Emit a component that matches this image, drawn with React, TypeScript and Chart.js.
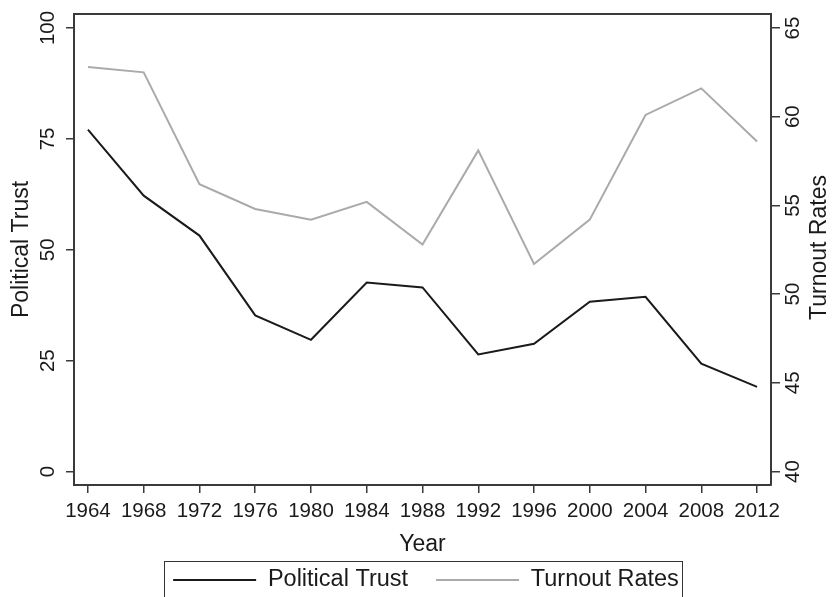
import React, { useEffect, useRef } from "react";
import { Chart, registerables } from "chart.js";

Chart.register(...registerables);

const years = [1964, 1968, 1972, 1976, 1980, 1984, 1988, 1992, 1996, 2000, 2004, 2008, 2012];
const politicalTrust = [77.1, 62.2, 53.2, 35.2, 29.7, 42.6, 41.5, 26.4, 28.8, 38.3, 39.4, 24.3, 19.1];
const turnoutRates = [62.8, 62.5, 56.2, 54.8, 54.2, 55.2, 52.8, 58.1, 51.7, 54.2, 60.1, 61.6, 58.6];
const trustTicks = [0, 25, 50, 75, 100];
const turnoutTicks = [40, 45, 50, 55, 60, 65];

const FONT = "'Liberation Sans', Arial, Helvetica, sans-serif";
const AXIS = "#3a3a3a";
const TEXT = "#1a1a1a";

export default function App() {
  const ref = useRef<HTMLCanvasElement | null>(null);

  useEffect(() => {
    document.body.style.margin = "0";
    const canvas = ref.current;
    if (!canvas) return;

    const framePlugin = {
      id: "frame",
      afterLayout(chart: any) {
        const lg = chart.legend;
        if (lg) {
          const pad = 28;
          const itemH = 23.5;
          const target = chart.scales.x.bottom + 19;
          const newTop = target - pad - itemH / 2;
          lg.top = newTop;
          lg.bottom = chart.height + 40;
          lg.height = lg.bottom - lg.top;
          lg.left += 3.5;
          lg.right += 3.5;
        }
      },
      afterDraw(chart: any) {
        const { ctx, chartArea } = chart;
        ctx.save();
        // top frame line
        ctx.strokeStyle = AXIS;
        ctx.lineWidth = 2;
        ctx.beginPath();
        ctx.moveTo(chartArea.left - 1, chartArea.top);
        ctx.lineTo(chartArea.right + 1, chartArea.top);
        ctx.stroke();
        // legend border around the drawn legend items
        const lg = chart.legend;
        if (lg && lg.legendItems && lg.legendItems.length) {
          const labelOpts = lg.options.labels;
          const fontSize = labelOpts.font.size;
          ctx.font = `${fontSize}px ${FONT}`;
          const widths = lg.legendItems.map(
            (it: any) => labelOpts.pointStyleWidth + fontSize / 2 + ctx.measureText(it.text).width
          );
          const total = widths.reduce((a: number, b: number) => a + b, 0) + labelOpts.padding * (widths.length - 1);
          const startX = (lg.left + lg.right) / 2 - total / 2;
          const x0 = startX - 9.5;
          const x1 = startX + total + 3;
          const y0 = chart.scales.x.bottom + 0.5;
          ctx.lineWidth = 1;
          ctx.strokeStyle = "#333333";
          ctx.strokeRect(Math.round(x0) + 0.5, Math.round(y0) - 0.5, Math.round(x1 - x0), 80);
        }
        // right axis title, reading bottom to top
        ctx.fillStyle = TEXT;
        ctx.font = `23px ${FONT}`;
        ctx.textAlign = "center";
        ctx.textBaseline = "middle";
        ctx.translate(820, (chartArea.top + chartArea.bottom) / 2 - 2);
        ctx.rotate(-Math.PI / 2);
        ctx.fillText("Turnout Rates", 0, 0);
        ctx.restore();
      },
    };

    const chart = new Chart(canvas, {
      type: "line",
      data: {
        datasets: [
          {
            label: "Political Trust",
            data: years.map((x, i) => ({ x, y: politicalTrust[i] })),
            borderColor: "#1a1a1a",
            backgroundColor: "#1a1a1a",
            borderWidth: 2,
            pointRadius: 0,
            tension: 0,
            yAxisID: "y",
          },
          {
            label: "Turnout Rates",
            data: years.map((x, i) => ({ x, y: turnoutRates[i] })),
            borderColor: "#aaaaaa",
            backgroundColor: "#aaaaaa",
            borderWidth: 2,
            pointRadius: 0,
            tension: 0,
            yAxisID: "y1",
          },
        ],
      },
      options: {
        animation: false,
        responsive: false,
        maintainAspectRatio: false,
        layout: { padding: { top: 14, left: 0, right: 0, bottom: 0 } },
        plugins: {
          tooltip: { enabled: false },
          legend: {
            position: "bottom",
            fullSize: false,
            maxHeight: 36,
            labels: {
              usePointStyle: true,
              pointStyle: "line",
              pointStyleWidth: 83,
              padding: 28,
              color: TEXT,
              font: { family: FONT, size: 23.5 },
            },
          },
        },
        scales: {
          x: {
            type: "linear",
            min: 1963,
            max: 2013,
            afterBuildTicks: (s: any) => {
              s.ticks = years.map((v) => ({ value: v }));
            },
            afterFit: (s: any) => {
              s.height = 76;
            },
            grid: {
              drawOnChartArea: false,
              drawTicks: true,
              tickLength: 8,
              color: AXIS,
              lineWidth: 1.5,
            },
            border: { display: true, color: AXIS, width: 2 },
            ticks: {
              autoSkip: false,
              maxRotation: 0,
              minRotation: 0,
              padding: 6,
              color: TEXT,
              font: { family: FONT, size: 20.5 },
              callback: (v: any) => String(v),
            },
            title: {
              display: true,
              text: "Year",
              color: TEXT,
              font: { family: FONT, size: 23, lineHeight: 1 },
              padding: { top: 0, bottom: 4.5 },
            },
          },
          y: {
            type: "linear",
            position: "left",
            min: -3.04,
            max: 103.16,
            afterBuildTicks: (s: any) => {
              s.ticks = trustTicks.map((v) => ({ value: v }));
            },
            afterFit: (s: any) => {
              s.width = 74;
            },
            grid: {
              drawOnChartArea: false,
              drawTicks: true,
              tickLength: 8,
              color: AXIS,
              lineWidth: 1.5,
            },
            border: { display: true, color: AXIS, width: 2 },
            ticks: {
              minRotation: 90,
              maxRotation: 90,
              crossAlign: "center",
              padding: 1,
              color: TEXT,
              font: { family: FONT, size: 20.5 },
              callback: (v: any) => String(v),
            },
            title: {
              display: true,
              text: "Political Trust",
              color: TEXT,
              font: { family: FONT, size: 23, lineHeight: 1 },
              padding: { top: 10, bottom: 0 },
            },
          },
          y1: {
            type: "linear",
            position: "right",
            min: 39.24,
            max: 65.79,
            afterBuildTicks: (s: any) => {
              s.ticks = turnoutTicks.map((v) => ({ value: v }));
            },
            afterFit: (s: any) => {
              s.width = 61;
            },
            grid: {
              drawOnChartArea: false,
              drawTicks: true,
              tickLength: 9,
              color: AXIS,
              lineWidth: 1.5,
            },
            border: { display: true, color: AXIS, width: 2 },
            ticks: {
              minRotation: 90,
              maxRotation: 90,
              crossAlign: "center",
              padding: 1.6,
              color: TEXT,
              font: { family: FONT, size: 20.5 },
              callback: (v: any) => String(v),
            },
            title: { display: false },
          },
        },
      },
      plugins: [framePlugin],
    } as any);

    return () => {
      chart.destroy();
    };
  }, []);

  return (
    <div style={{ position: "absolute", left: 0, top: 0, width: 832, height: 597, background: "#ffffff" }}>
      <canvas ref={ref} width={832} height={597} style={{ display: "block", width: 832, height: 597 }} />
    </div>
  );
}
